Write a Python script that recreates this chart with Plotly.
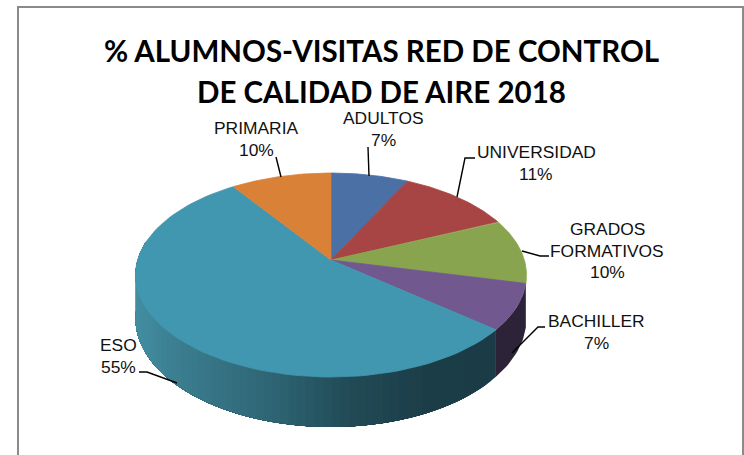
import numpy as np
import plotly.graph_objects as go

categories = [["ADULTOS"], ["UNIVERSIDAD"], ["GRADOS", "FORMATIVOS"], ["BACHILLER"], ["ESO"], ["PRIMARIA"]]
values = [7.4, 11.0, 10.3, 7.3, 54.6, 9.6]
colors = ["#4A70A6", "#A64543", "#89A44E", "#71588F", "#4197AF", "#DA8138"]
W, H = 744, 455
title_lines = ["% ALUMNOS-VISITAS RED DE CONTROL", "DE CALIDAD DE AIRE 2018"]
label_tops = [(383, 118), (536, 152), (607, 229), (596, 321), (118, 345), (256, 128)]
LINE_STEP = 21.5
leaders = [
    [(368, 147), (369, 176)],
    [(475, 158), (465, 158), (457, 197)],
    [(522, 251), (540, 256), (549, 256)],
    [(545, 327), (538, 327), (512, 353)],
    [(139, 372), (147, 372), (177, 383)],
    [(276, 157), (281, 177)],
]

CX, CY, TOP, BOTTOM, HALF_W, DEPTH = 331, 260, 87, 117, 195.5, 50
k = (BOTTOM - TOP) / (BOTTOM + TOP)
A = TOP * (1 + k)
B = HALF_W * np.sqrt(1 - k * k)


def project(theta, drop=0.0):
    u, v = np.sin(theta), np.cos(theta)
    d = 1 + k * v
    return CX + B * u / d, CY - A * v / d + drop / d * (1 - k)


def lerp_color(x):
    stops_x = [136, 175, 280, 350, 430, 500]
    r = np.interp(x, stops_x, [68, 60, 46, 34, 28, 27])
    g = np.interp(x, stops_x, [142, 128, 100, 76, 62, 60])
    b = np.interp(x, stops_x, [162, 146, 116, 88, 72, 70])
    return f"rgb({int(r)},{int(g)},{int(b)})"


fractions = np.cumsum([0] + values) / sum(values)
angles = fractions * 2 * np.pi
fig = go.Figure()


def add_poly(xs, ys, color, width=0.8):
    fig.add_trace(go.Scatter(x=xs, y=ys, mode="lines", fill="toself", fillcolor=color,
                             line=dict(color=color, width=width), hoverinfo="skip", showlegend=False))


# side wall: painter-style, each strip overlaps everything still to come
wall_end = 2 * np.pi * 0.78
for i, base in [(4, None), (3, "#2D2338")]:
    a0, a1 = angles[i], min(angles[i + 1], wall_end)
    if base:
        th = np.linspace(a0, a1, 20)
        x0, y0 = project(th)
        x1, y1 = project(th[::-1], DEPTH)
        add_poly(np.r_[x0, x1], np.r_[y0, y1], base, 0)
        continue
    steps = np.linspace(a0, a1, 70)
    for s in steps[:-1]:
        th = np.linspace(s, a1, 50)
        x0, y0 = project(th)
        x1, y1 = project(th[::-1], DEPTH)
        add_poly(np.r_[x0, x1], np.r_[y0, y1], lerp_color(project(s)[0]), 0)

# top faces
for i, c in enumerate(colors):
    th = np.linspace(angles[i], angles[i + 1], 90)
    x, y = project(th)
    add_poly(np.r_[CX, x, CX], np.r_[CY, y, CY], c)

# leader lines
for pts in leaders:
    xs, ys = zip(*pts)
    fig.add_trace(go.Scatter(x=xs, y=ys, mode="lines", line=dict(color="black", width=1.4),
                             hoverinfo="skip", showlegend=False))

ann = []
for name, val, (lx, ly) in zip(categories, values, label_tops):
    for n, line in enumerate(name + [f"{val:.0f}%"]):
        ann.append(dict(x=lx, y=ly + n * LINE_STEP, xref="x", yref="y", text=line, showarrow=False,
                        xanchor="center", yanchor="middle",
                        font=dict(family="Liberation Sans", size=17.4, color="#111111")))
for line, ty in zip(title_lines, [50, 91]):
    ann.append(dict(x=381.5, y=ty, xref="x", yref="y", text=f"<b>{line}</b>", showarrow=False,
                    xanchor="center", yanchor="middle",
                    font=dict(family="Lato", size=29.5, color="black")))

fig.update_layout(
    width=W, height=H, margin=dict(l=0, r=0, t=0, b=0), paper_bgcolor="white", plot_bgcolor="white",
    xaxis=dict(range=[0, W], visible=False, fixedrange=True),
    yaxis=dict(range=[H, 0], visible=False, fixedrange=True),
    annotations=ann,
    shapes=[dict(type="rect", x0=18, y0=7, x1=743, y1=470, xref="x", yref="y",
                 line=dict(color="#8A8A8A", width=2), layer="below")],
)
fig.write_html("out.html", config={"displayModeBar": False},
               post_script="document.documentElement.style.overflow='hidden';document.body.style.margin='0';")
